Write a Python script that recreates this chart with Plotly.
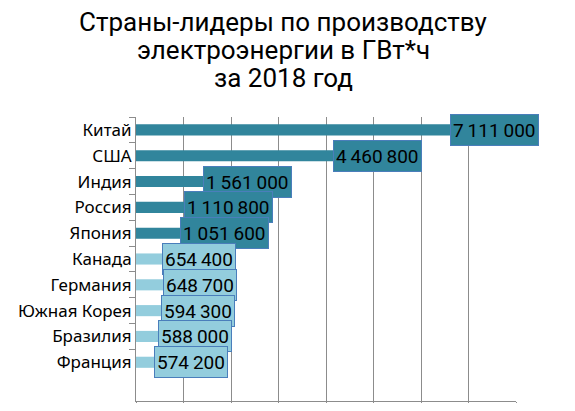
import plotly.graph_objects as go

# data
countries = ['Китай', 'США', 'Индия', 'Россия', 'Япония',
             'Канада', 'Германия', 'Южная Корея', 'Бразилия', 'Франция']
values = [7111000, 4460800, 1561000, 1110800, 1051600,
          654400, 648700, 594300, 588000, 574200]
title_lines = ['Страны-лидеры по производству', 'электроэнергии в ГВт*ч', 'за 2018 год']

dark = '#31859C'
light = '#93CDDD'
colors = [dark] * 5 + [light] * 5
# where each value box starts, relative to the bar end (px)
label_shift = [-24, -15, -7, -5, -6, -5, -4, -3, -6, -9]

# the page puts the figure 8 px in from the corner, so size it to fit
OFF = 8
W, H = 575 - 2 * OFF, 411 - 2 * OFF
# plot area wanted on screen: x 136..516, y 117..401
L, T = 136 - OFF, 117 - OFF
R, B = W - (516 - OFF), H - (401 - OFF)
plot_w = W - L - R
plot_h = H - T - B

fig = go.Figure(go.Bar(
    x=values, y=countries, orientation='h',
    marker=dict(color=colors, line_width=0),
    width=0.43,
))

for c, v, col, sh in zip(countries, values, colors, label_shift):
    fig.add_annotation(
        x=v, y=c, xanchor='left', yanchor='middle', xshift=sh,
        text='{:,}'.format(v).replace(',', '\u2009'),
        showarrow=False, height=26,
        font=dict(family='Roboto', size=19, color='black'),
        bgcolor=col, bordercolor='#4A7EBB', borderwidth=1, borderpad=2,
    )

# title as three lines, centred at x=283 px on screen
for line, yc in zip(title_lines, [22, 50, 78]):
    fig.add_annotation(
        x=(283 - OFF - L) / plot_w, xref='paper', xanchor='center',
        y=(H - B - (yc - OFF)) / plot_h, yref='paper', yanchor='middle',
        text=line, showarrow=False,
        font=dict(family='Roboto', size=26, color='black'),
    )

fig.update_layout(
    width=W, height=H,
    margin=dict(l=L, r=R, t=T, b=B, autoexpand=False),
    paper_bgcolor='white', plot_bgcolor='white',
    showlegend=False,
    font=dict(family='Noto Sans', color='black'),
)

fig.update_xaxes(
    range=[0, 8000000], dtick=1000000,
    showgrid=True, gridcolor='#8C8C8C', gridwidth=1,
    showline=True, linecolor='#8C8C8C', linewidth=1,
    ticks='outside', ticklen=5, tickcolor='#8C8C8C',
    showticklabels=False, zeroline=False,
)
fig.update_yaxes(
    type='category', categoryarray=countries,
    range=[10.5, -0.5], automargin=False,
    showgrid=False,
    showline=True, linecolor='#8C8C8C', linewidth=1,
    ticks='outside', ticklen=6, tickcolor='#8C8C8C', tickson='boundaries',
    tickfont=dict(family='Noto Sans', size=17, color='black'),
)

fig.write_html('out.html')
